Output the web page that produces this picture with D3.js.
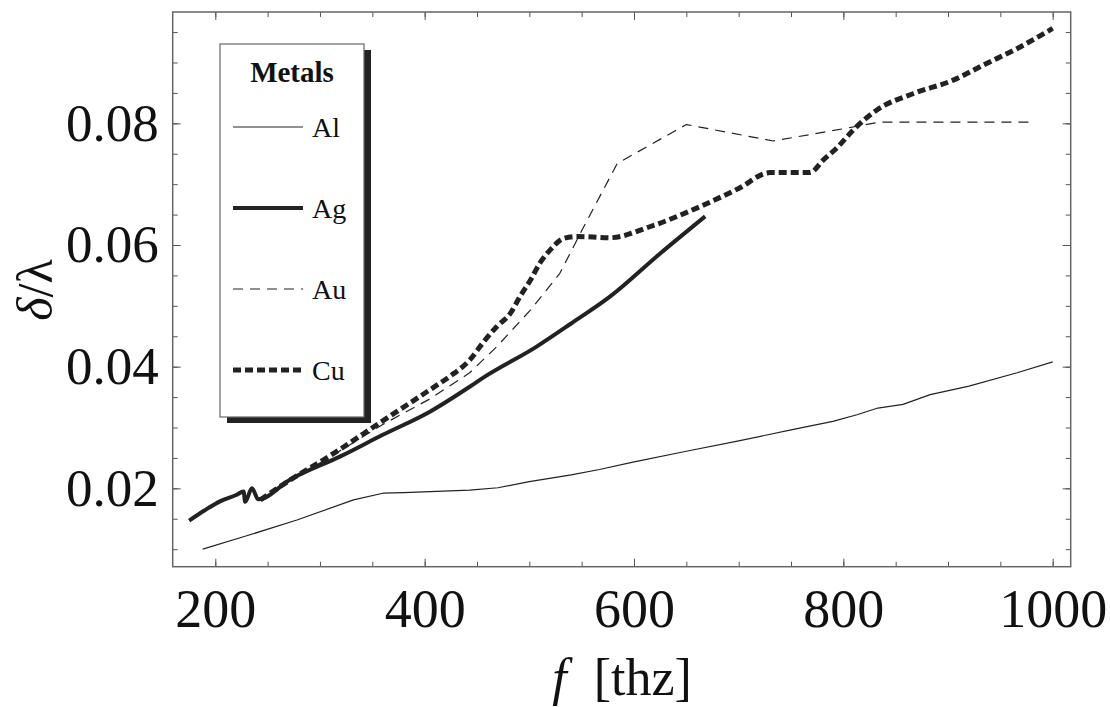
<!DOCTYPE html>
<html>
<head>
<meta charset="utf-8">
<script src="https://cdn.jsdelivr.net/npm/d3@7"></script>
<style>
  body { margin: 0; background: #fff; }
  text { font-family: "Liberation Serif", "Times New Roman", serif; fill: #111; }
</style>
</head>
<body>
<svg width="1110" height="707"></svg>
<script>
// data (f in THz, delta/lambda)
var alF = [188, 230, 278, 332, 360, 380, 443, 470, 500, 540, 567, 599, 650, 700, 750, 790, 813, 833, 857, 883, 920, 966, 1000];
var alY = [0.0100, 0.0122, 0.0148, 0.0181, 0.0192, 0.0193, 0.0197, 0.0201, 0.0211, 0.0222, 0.0231, 0.0243, 0.0261, 0.0278, 0.0296, 0.0310, 0.0321, 0.0332, 0.0338, 0.0354, 0.0368, 0.0390, 0.0408];

var agF = [175, 190, 205, 220, 227, 228.5, 235, 241, 272, 320, 360, 405, 443, 456, 507, 540, 577, 625, 668];
var agY = [0.0147, 0.0164, 0.0179, 0.0189, 0.0195, 0.0178, 0.0200, 0.0182, 0.0215, 0.0253, 0.0288, 0.0326, 0.0367, 0.0382, 0.0433, 0.0471, 0.0515, 0.0586, 0.0647];

var auF = [243, 270, 310, 360, 405, 443, 469, 501, 529, 552, 584, 650, 733, 803, 835, 978];
var auY = [0.0181, 0.0211, 0.0252, 0.0305, 0.0347, 0.0390, 0.0433, 0.0493, 0.0553, 0.0630, 0.0734, 0.0798, 0.0771, 0.0792, 0.0802, 0.0802];

var cuF = [243, 270, 310, 360, 405, 424, 443, 456, 469, 482, 491, 501, 510, 520, 533, 545, 577, 615, 663, 700, 730, 768, 781, 794, 810, 832, 867, 905, 934, 965, 1000];
var cuY = [0.0181, 0.0212, 0.0254, 0.0311, 0.0362, 0.0384, 0.0411, 0.0440, 0.0466, 0.0488, 0.0515, 0.0542, 0.0570, 0.0592, 0.0611, 0.0614, 0.0612, 0.0630, 0.0663, 0.0693, 0.0719, 0.0719, 0.0740, 0.0760, 0.0790, 0.0822, 0.0849, 0.0871, 0.0896, 0.0922, 0.0956];

var seriesNames = ['Al', 'Ag', 'Au', 'Cu'];
var xTicks = [200, 400, 600, 800, 1000];
var yTicks = [0.02, 0.04, 0.06, 0.08];

function main() {
	var styles = {
		Al: {w: 1.2, dash: null, curve: d3.curveLinear},
		Ag: {w: 4, dash: null, curve: d3.curveMonotoneX},
		Au: {w: 1.2, dash: '10,7', curve: d3.curveLinear},
		Cu: {w: 5, dash: '8,4', curve: d3.curveMonotoneX}
	};

	var svg = d3.select('svg');
	var pl = 172.7, pr = 1070.7, pt = 12, pb = 566.7;

	var x = d3.scaleLinear().domain([159.3, 1017.2]).range([pl, pr]);
	var y = d3.scaleLinear().domain([0.00712, 0.0983]).range([pb, pt]);

	var series = [
		{name: 'Al', f: alF, v: alY},
		{name: 'Ag', f: agF, v: agY},
		{name: 'Au', f: auF, v: auY},
		{name: 'Cu', f: cuF, v: cuY}
	];

	var xMinor = d3.range(200, 1001, 50);
	var yMinor = d3.range(0.01, 0.096, 0.005);
	function noDomain(g){ g.select('.domain').remove(); }

	// ticks on all four sides, pointing in
	svg.append('g').attr('transform', 'translate(0,' + pb + ')')
		.call(d3.axisBottom(x).tickValues(xMinor).tickSize(-5).tickFormat('')).call(noDomain);
	svg.append('g').attr('transform', 'translate(0,' + pb + ')')
		.call(d3.axisBottom(x).tickValues(xTicks).tickSize(-8).tickPadding(22).tickFormat(d3.format('d')))
		.call(noDomain)
		.call(function(g){ g.selectAll('text').attr('font-size', 54).attr('dy', '0.71em'); });
	svg.append('g').attr('transform', 'translate(0,' + pt + ')')
		.call(d3.axisTop(x).tickValues(xMinor).tickSize(-5).tickFormat('')).call(noDomain);
	svg.append('g').attr('transform', 'translate(0,' + pt + ')')
		.call(d3.axisTop(x).tickValues(xTicks).tickSize(-8).tickFormat('')).call(noDomain);

	svg.append('g').attr('transform', 'translate(' + pl + ',0)')
		.call(d3.axisLeft(y).tickValues(yMinor).tickSize(-5).tickFormat('')).call(noDomain);
	svg.append('g').attr('transform', 'translate(' + pl + ',0)')
		.call(d3.axisLeft(y).tickValues(yTicks).tickSize(-8).tickPadding(14).tickFormat(function(d){ return d.toFixed(2); }))
		.call(noDomain)
		.call(function(g){ g.selectAll('text').attr('font-size', 53); });
	svg.append('g').attr('transform', 'translate(' + pr + ',0)')
		.call(d3.axisRight(y).tickValues(yMinor).tickSize(-5).tickFormat('')).call(noDomain);
	svg.append('g').attr('transform', 'translate(' + pr + ',0)')
		.call(d3.axisRight(y).tickValues(yTicks).tickSize(-8).tickFormat('')).call(noDomain);

	svg.selectAll('.tick line').attr('stroke', '#555');
	svg.selectAll('.tick text').attr('fill', '#111').attr('font-family', '"Liberation Serif", serif');

	svg.append('rect')
		.attr('x', pl).attr('y', pt)
		.attr('width', pr - pl).attr('height', pb - pt)
		.attr('fill', 'none').attr('stroke', '#666').attr('stroke-width', 1.5);

	// curves
	var plot = svg.append('g');
	series.forEach(function(s){
		var pts = s.f.map(function(f, i){ return [f, s.v[i]]; });
		var line = d3.line()
			.x(function(d){ return x(d[0]); })
			.y(function(d){ return y(d[1]); })
			.curve(styles[s.name].curve);
		plot.append('path')
			.datum(pts)
			.attr('d', line)
			.attr('fill', 'none')
			.attr('stroke', '#222')
			.attr('stroke-width', styles[s.name].w)
			.attr('stroke-dasharray', styles[s.name].dash)
			.attr('stroke-linejoin', 'round');
	});

	// legend with drop shadow
	var lg = svg.append('g');
	lg.append('rect').attr('x', 227).attr('y', 50).attr('width', 144).attr('height', 373).attr('fill', '#222');
	lg.append('rect').attr('x', 220).attr('y', 44).attr('width', 144).attr('height', 373)
		.attr('fill', '#fff').attr('stroke', '#666').attr('stroke-width', 1.2);
	lg.append('text').attr('x', 292).attr('y', 72).attr('text-anchor', 'middle')
		.attr('dominant-baseline', 'central').attr('font-size', 29).attr('font-weight', 'bold').text('Metals');
	seriesNames.forEach(function(n, i){
		var yy = 127 + i * 81;
		lg.append('line').attr('x1', 233).attr('x2', 303).attr('y1', yy).attr('y2', yy)
			.attr('stroke', '#222').attr('stroke-width', styles[n].w)
			.attr('stroke-dasharray', styles[n].dash);
		lg.append('text').attr('x', 312).attr('y', yy).attr('dominant-baseline', 'central')
			.attr('font-size', 28).text(n);
	});

	// axis titles
	var xt = svg.append('text').attr('x', 622).attr('y', 695).attr('text-anchor', 'middle').attr('font-size', 52);
	xt.append('tspan').attr('font-style', 'italic').text('f');
	xt.append('tspan').attr('dx', 14).text(' [thz]');

	var yt = svg.append('text').attr('transform', 'translate(52,290) rotate(-90)')
		.attr('text-anchor', 'middle').attr('font-size', 50);
	yt.append('tspan').attr('font-style', 'italic').text('δ');
	yt.append('tspan').text('/λ');
}

main();
</script>
</body>
</html>
